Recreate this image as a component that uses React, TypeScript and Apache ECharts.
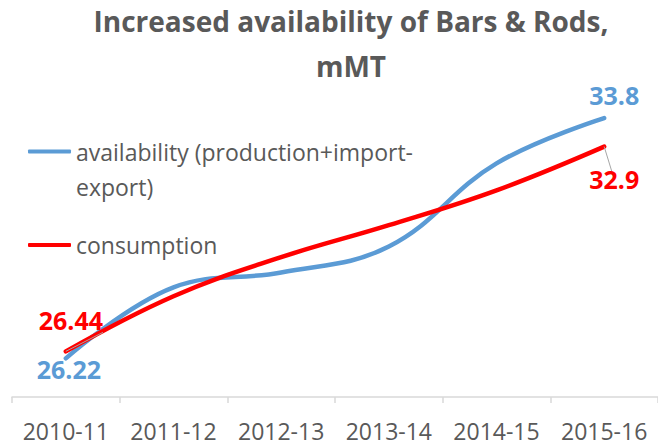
import React, { useEffect, useRef } from "react";
import * as echarts from "echarts";

const categories = ["2010-11", "2011-12", "2012-13", "2013-14", "2014-15", "2015-16"];
const availability = [26.22, 28.46, 28.93, 29.75, 32.37, 33.8];
const consumption = [26.44, 28.18, 29.41, 30.42, 31.52, 32.9];
const seriesNames = ["availability (production+import-export)", "consumption"];
const titleText = "Increased availability of Bars & Rods,\nmMT";

const BLUE = "#5B9BD5";
const RED = "#FF0000";
const GRAY = "#595959";
const FONT = "'Open Sans', sans-serif";

type LabelCfg = { position: string; distance: number; offset: number[]; line: boolean };

function buildData(values: number[], color: string, first: LabelCfg, last: LabelCfg) {
  return values.map((v, i) => {
    const cfg = i === 0 ? first : i === values.length - 1 ? last : null;
    if (!cfg) return { value: v };
    return {
      value: v,
      label: {
        show: true,
        position: cfg.position,
        distance: cfg.distance,
        offset: cfg.offset,
        color,
        fontFamily: FONT,
        fontWeight: "bold",
        fontSize: 25,
      },
      labelLine: {
        show: cfg.line,
        lineStyle: { color: "#a6a6a6", width: 1 },
      },
    };
  });
}

export default function App() {
  const ref = useRef<HTMLDivElement>(null);
  useEffect(() => {
    if (!ref.current) return;
    const chart = echarts.init(ref.current, undefined, { renderer: "svg" });
    chart.setOption({
      animation: false,
      backgroundColor: "#ffffff",
      title: {
        text: titleText,
        left: 351,
        top: -2,
        padding: 0,
        textAlign: "center",
        textStyle: {
          fontFamily: FONT,
          fontWeight: "bold",
          fontSize: 28,
          lineHeight: 45,
          color: GRAY,
        },
      },
      legend: [
        {
          orient: "vertical",
          left: 28,
          top: 99,
          padding: 0,
          itemWidth: 43,
          itemHeight: 4,
          icon: "roundRect",
          data: [{ name: seriesNames[0] }],
          formatter: () => "\navailability (production+import-\nexport)",
          textStyle: { fontFamily: FONT, fontSize: 23, color: GRAY, lineHeight: 35 },
        },
        {
          orient: "vertical",
          left: 28,
          top: 227.5,
          padding: 0,
          itemWidth: 43,
          itemHeight: 4,
          icon: "roundRect",
          data: [{ name: seriesNames[1] }],
          textStyle: { fontFamily: FONT, fontSize: 23, color: GRAY, lineHeight: 35 },
        },
      ],
      grid: { left: 12, right: -2, top: 80, bottom: 48, containLabel: false },
      xAxis: {
        type: "category",
        data: categories,
        boundaryGap: true,
        axisLine: { show: true, lineStyle: { color: "#d9d9d9", width: 1.5 } },
        axisTick: { show: true, length: 6, lineStyle: { color: "#d9d9d9", width: 1.5 } },
        axisLabel: { fontFamily: FONT, fontSize: 23, color: GRAY, margin: 22, interval: 0 },
        splitLine: { show: false },
      },
      yAxis: {
        type: "value",
        min: 25,
        max: 35,
        show: false,
        splitLine: { show: false },
      },
      series: [
        {
          name: seriesNames[0],
          type: "line",
          smooth: 0.4,
          symbol: "circle",
          symbolSize: 0,
          showSymbol: true,
          color: BLUE,
          lineStyle: { color: BLUE, width: 4.5, cap: "round" },
          data: buildData(
            availability,
            BLUE,
            { position: "bottom", distance: 0, offset: [3, -2], line: false },
            { position: "top", distance: 13, offset: [10, 2], line: false }
          ),
        },
        {
          name: seriesNames[1],
          type: "line",
          smooth: 0.4,
          symbol: "circle",
          symbolSize: 0,
          showSymbol: true,
          color: RED,
          lineStyle: { color: RED, width: 4.5, cap: "round" },
          data: buildData(
            consumption,
            RED,
            { position: "top", distance: 21, offset: [5, 2], line: true },
            { position: "bottom", distance: 22, offset: [10, -2], line: true }
          ),
        },
      ],
    });
    return () => chart.dispose();
  }, []);
  return (
    <div
      ref={ref}
      style={{ position: "fixed", left: 0, top: 0, width: 658, height: 445, background: "#fff" }}
    />
  );
}
